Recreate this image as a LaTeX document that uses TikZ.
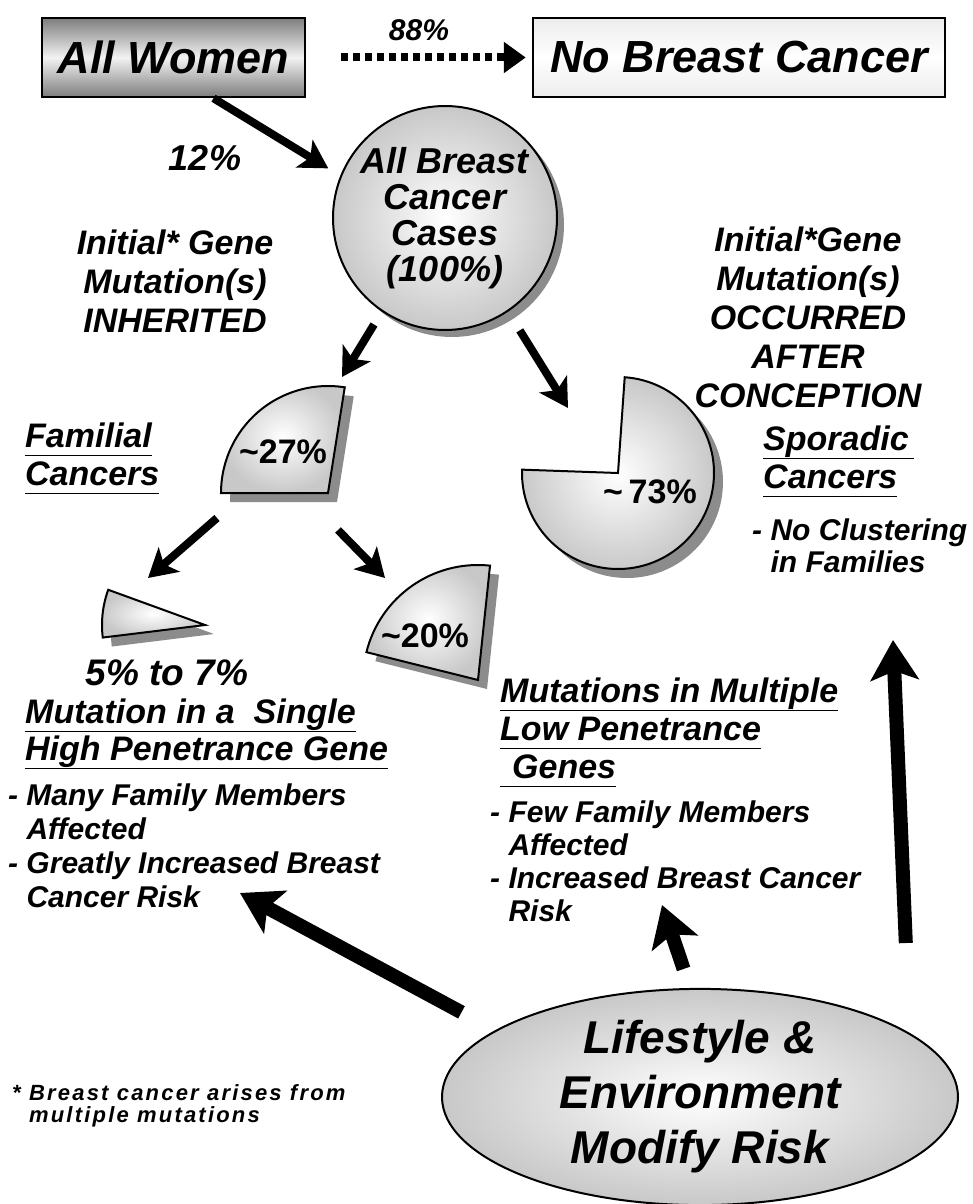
\documentclass[tikz,border=0pt]{standalone}
\usepackage{fontspec}
\setmainfont{Liberation Sans}
\usetikzlibrary{arrows.meta,shapes.geometric}
\definecolor{pieGray}{RGB}{200,200,200}
\definecolor{shadowGray}{RGB}{140,140,140}
\definecolor{boxGray}{RGB}{125,125,125}
\newcommand{\ulin}[1]{\setbox0=\hbox{#1}\rlap{\rule[-9pt]{\wd0}{1.5pt}}\box0}

\begin{document}
\begin{tikzpicture}[x=1pt, y=-1pt,
  txt/.style={font=\fontsize{34}{39}\selectfont\bfseries\itshape, align=center, inner sep=0pt},
  head/.style={font=\fontsize{34}{38}\selectfont\bfseries\itshape, align=left, inner sep=0pt, anchor=base west},
  note/.style={font=\fontsize{30}{34}\selectfont\bfseries\itshape, align=left, inner sep=0pt, anchor=base west},
  pct/.style={font=\fontsize{34}{36}\selectfont\bfseries, inner sep=0pt, anchor=base},
  arr/.style={line width=8pt, -{Stealth[length=28pt, width=32pt, inset=7pt]}},
  bigarr/.style={line width=14pt, -{Stealth[length=40pt, width=48pt, inset=9pt]}},
  pie/.style={draw, line width=2pt, inner color=white, outer color=pieGray},
  pieshadow/.style={fill=shadowGray}]
\useasboundingbox (0,0) rectangle (972,1204);

\node[draw, line width=2.5pt, minimum width=263pt, minimum height=79pt, top color=boxGray, bottom color=boxGray, middle color=gray!10, font=\fontsize{45}{50}\selectfont\bfseries\itshape] (women) at (173.5,57.5) {All Women};
\node[draw, line width=2.5pt, minimum width=412pt, minimum height=79pt, top color=gray!15, bottom color=gray!15, middle color=white, font=\fontsize{45}{50}\selectfont\bfseries\itshape] (nobc) at (739,57.5) {No Breast Cancer};
\draw[line width=8pt, dash pattern=on 7pt off 5pt, -{Triangle[length=22pt, width=30pt]}, shorten <=35pt, shorten >=6pt] (women) -- (nobc)
  node[midway, above=13pt, inner sep=0pt, font=\fontsize{30}{30}\selectfont\bfseries\itshape] (p88) {88\%};

\fill[shadowGray] (452,225) circle[radius=112];
\node[circle, draw, line width=2pt, minimum size=224pt, inner color=white, outer color=pieGray, txt, font=\fontsize{36}{36}\selectfont\bfseries\itshape] (cases) at (445,218) {All Breast\\Cancer\\Cases\\(100\%)};
\draw[arr, shorten >=14pt] ([xshift=40pt]women.south) -- (cases.158);
\node[txt, anchor=base, font=\fontsize{36}{39}\selectfont\bfseries\itshape] (p12) at (205,170) {12\%};

\node[txt, anchor=base] (inher) at (175,332) {Initial* Gene\\Mutation(s)\\INHERITED};
\node[txt, anchor=base] (occur) at (808,407) {Initial*Gene\\Mutation(s)\\OCCURRED\\AFTER\\CONCEPTION};

\foreach \cx/\cy/\r/\a/\b in {328/493/107/-81/-180, 478/680/115/-84/-166, 618/473/96/-178/-446, 205/625/103/-160/-187}{
  \fill[pieshadow] (\cx+9,\cy+9) -- ++(\a:\r) arc[start angle=\a, end angle=\b, radius=\r] -- cycle;
  \path[pie] (\cx,\cy) -- ++(\a:\r) arc[start angle=\a, end angle=\b, radius=\r] -- cycle;
}
\node[pct] (p27) at (283,463) {\textasciitilde27\%};
\node[pct] (p20) at (425,647) {\textasciitilde20\%};
\node[pct] (p73) at (650,503) {\textasciitilde\,73\%};

\coordinate (t27) at (342,377);
\coordinate (t73) at (568,408);
\coordinate (s5) at (217,518);
\coordinate (t5) at (148,578);
\coordinate (s20) at (338,530);
\coordinate (t20) at (385,578);
\draw[arr, shorten <=15pt] (cases.236) -- (t27);
\draw[arr, shorten <=22pt] (cases.-56) -- (t73);
\draw[arr] (s5) -- (t5);
\draw[arr] (s20) -- (t20);

\node[head] (famil) at (25,485) {\ulin{Familial}\\\ulin{Cancers}};
\node[head] (spor) at (763,488) {\ulin{Sporadic\,}\\\ulin{Cancers}};
\node[note, font=\fontsize{30}{32}\selectfont\bfseries\itshape] (noclust) at (752,572) {- No Clustering\\\hphantom{- }in Families};

\node[txt, anchor=base, font=\fontsize{37}{39}\selectfont\bfseries\itshape] (p57) at (167,685) {5\% to 7\%};
\node[head, font=\fontsize{34}{37}\selectfont\bfseries\itshape] (single) at (25,760) {\ulin{Mutation in a\ \ Single}\\\ulin{High Penetrance Gene}};
\node[note] (many) at (8,907) {- Many Family Members\\\hphantom{- }Affected\\- Greatly Increased Breast\\\hphantom{- }Cancer Risk};
\node[head] (multi) at (500,778) {\ulin{Mutations in Multiple}\\\ulin{Low Penetrance}\\\ulin{\hspace{12pt}Genes}};
\node[note, font=\fontsize{30}{33}\selectfont\bfseries\itshape] (few) at (490,921) {- Few Family Members\\\hphantom{- }Affected\\- Increased Breast Cancer\\\hphantom{- }Risk};

\node[ellipse, draw, line width=2pt, minimum width=516pt, minimum height=212pt, inner sep=0pt, inner color=white, outer color=pieGray, align=center, font=\fontsize{46}{55}\selectfont\bfseries\itshape] (life) at (700,1097) {Lifestyle \&\\Environment\\Modify Risk};
\coordinate (tSingle) at (240,893);
\coordinate (tFew) at (662,905);
\coordinate (tSpor) at (893,640);
\draw[bigarr, shorten <=38pt] (life.162) -- (tSingle);
\draw[bigarr, shorten <=20pt] ([xshift=-10pt]life.north) -- (tFew);
\draw[bigarr, shorten <=90pt] (life.17) -- (tSpor);

\node[note, font=\fontsize{22}{22}\selectfont\bfseries\itshape\addfontfeatures{LetterSpace=10}] (foot) at (12,1122) {* Breast cancer arises from\\\hphantom{* }multiple mutations};
\end{tikzpicture}
\end{document}
